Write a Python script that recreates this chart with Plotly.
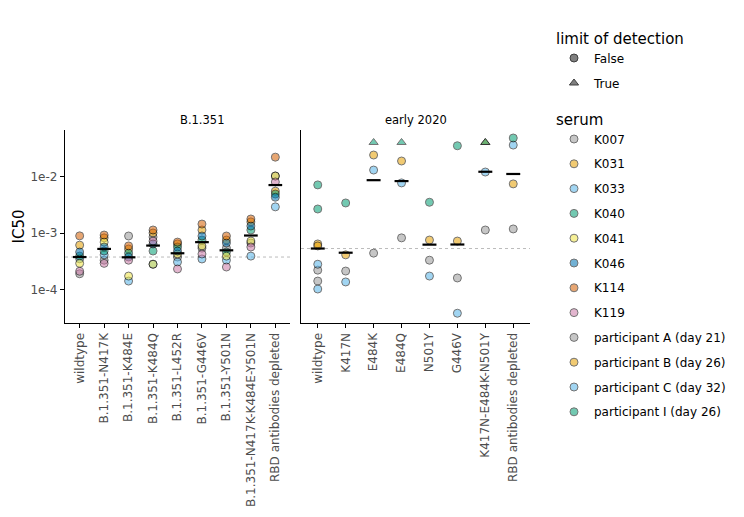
import numpy as np
import plotly.graph_objects as go

# ---- B.1.351 panel (8 sera, one value per virus) ----
B1351_VIRUSES = ["wildtype", "B.1.351-N417K", "B.1.351-K484E", "B.1.351-K484Q",
                 "B.1.351-L452R", "B.1.351-G446V", "B.1.351-Y501N",
                 "B.1.351-N417K-K484E-Y501N", "RBD antibodies depleted"]
K007 = [1.9e-4, 3.3e-4, 8.85e-4, 8.5e-4, 3.76e-4, 5.4e-4, 5.4e-4, 6.65e-4, 1.02e-2]
K031 = [6.1e-4, 8.2e-4, 5.2e-4, 1.0e-3, 6.4e-4, 1.13e-3, 7.5e-4, 1.57e-3, 5.5e-3]
K033 = [3.5e-4, 4.1e-4, 1.41e-4, 2.8e-4, 3.07e-4, 3.47e-4, 3.3e-4, 3.9e-4, 2.9e-3]
K040 = [3.9e-4, 4.8e-4, 4.4e-4, 4.8e-4, 5.65e-4, 7.5e-4, 4.6e-4, 1.13e-3, 4.9e-3]
K041 = [2.9e-4, 6.9e-4, 1.73e-4, 2.8e-4, 4.25e-4, 5.9e-4, 3.9e-4, 7.2e-4, 1.02e-2]
K046 = [4.6e-4, 5.65e-4, 3.76e-4, 6.4e-4, 4.8e-4, 8.85e-4, 6.65e-4, 1.33e-3, 4.3e-3]
K114 = [8.9e-4, 9.2e-4, 5.9e-4, 1.13e-3, 6.9e-4, 1.44e-3, 8.85e-4, 1.77e-3, 2.2e-2]
K119 = [2.1e-4, 2.9e-4, 3.3e-4, 7.2e-4, 2.31e-4, 4.25e-4, 2.5e-4, 5.65e-4, 8.0e-3]

# ---- early 2020 panel (4 participants, wildtype measured twice) ----
EARLY_VIRUSES = ["wildtype", "K417N", "E484K", "E484Q", "N501Y", "G446V",
                 "K417N-E484K-N501Y", "RBD antibodies depleted"]
EARLY_X = ["wildtype", "wildtype", "K417N", "E484K", "E484Q", "N501Y", "G446V",
           "K417N-E484K-N501Y", "RBD antibodies depleted"]
PART_A = [2.2e-4, 1.41e-4, 2.12e-4, 4.4e-4, 8.2e-4, 3.3e-4, 1.6e-4, 1.13e-3, 1.18e-3]
PART_B = [6.4e-4, 5.9e-4, 4.1e-4, 2.4e-2, 1.88e-2, 7.5e-4, 7.2e-4, 0.04, 7.4e-3]
PART_C = [2.8e-4, 1.02e-4, 1.36e-4, 1.3e-2, 7.7e-3, 1.73e-4, 3.8e-5, 1.2e-2, 3.6e-2]
PART_I = [7.1e-3, 2.66e-3, 3.4e-3, 0.04, 0.04, 3.5e-3, 3.5e-2, 0.04, 4.8e-2]
PART_A_LOD = [False] * 9
PART_B_LOD = [False, False, False, False, False, False, False, True, False]
PART_C_LOD = [False] * 9
PART_I_LOD = [False, False, False, True, True, False, False, True, False]

COLORS = {"K007": "#999999", "K031": "#E69F00", "K033": "#56B4E9", "K040": "#009E73",
          "K041": "#F0E442", "K046": "#0072B2", "K114": "#D55E00", "K119": "#CC79A7",
          "participant A (day 21)": "#999999", "participant B (day 26)": "#E69F00",
          "participant C (day 32)": "#56B4E9", "participant I (day 26)": "#009E73"}

b1351 = {"K007": K007, "K031": K031, "K033": K033, "K040": K040,
         "K041": K041, "K046": K046, "K114": K114, "K119": K119}
early = {"participant A (day 21)": (PART_A, PART_A_LOD),
         "participant B (day 26)": (PART_B, PART_B_LOD),
         "participant C (day 32)": (PART_C, PART_C_LOD),
         "participant I (day 26)": (PART_I, PART_I_LOD)}

FONT = "DejaVu Sans"
W, H = 744, 517
# page body adds an 8px margin, so lay out in page pixels minus 8
def px(x):
    return (x - 8) / W
def py(y):
    return 1 - (y - 8) / H

fig = go.Figure()


def marker(color, symbols):
    return dict(size=8, color=color, opacity=0.55, symbol=symbols,
                line=dict(color="black", width=1))


def gmean_bars(xs, ys, cats, half, xa, ya):
    xs = np.array(xs)
    ys = np.array(ys)
    bx, by = [], []
    for i, c in enumerate(cats):
        m = 10 ** np.mean(np.log10(ys[xs == c]))
        bx += [i - half, i + half, None]
        by += [m, m, None]
    fig.add_trace(go.Scatter(x=bx, y=by, mode="lines", xaxis=xa, yaxis=ya,
                             line=dict(color="black", width=2.2), showlegend=False,
                             hoverinfo="skip"))


# B.1.351 panel
all_x, all_y = [], []
for name, vals in b1351.items():
    all_x += B1351_VIRUSES
    all_y += vals
wt = 10 ** np.mean(np.log10([v for x, v in zip(all_x, all_y) if x == "wildtype"]))
fig.add_trace(go.Scatter(x=[-0.6, len(B1351_VIRUSES) - 0.4], y=[wt, wt], mode="lines",
                         line=dict(color="#bbbbbb", width=1, dash="dot"),
                         xaxis="x", yaxis="y", showlegend=False, hoverinfo="skip"))
for name, vals in b1351.items():
    fig.add_trace(go.Scatter(x=list(range(len(B1351_VIRUSES))), y=vals,
                             mode="markers", marker=marker(COLORS[name], "circle"),
                             xaxis="x", yaxis="y", name=name, showlegend=False))
gmean_bars(all_x, all_y, B1351_VIRUSES, 0.28, "x", "y")

# early 2020 panel
all_x, all_y = [], []
for name, (vals, lod) in early.items():
    all_x += EARLY_X
    all_y += vals
wt = 10 ** np.mean(np.log10([v for x, v in zip(all_x, all_y) if x == "wildtype"]))
fig.add_trace(go.Scatter(x=[-0.6, len(EARLY_VIRUSES) - 0.4], y=[wt, wt], mode="lines",
                         line=dict(color="#bbbbbb", width=1, dash="dot"),
                         xaxis="x2", yaxis="y2", showlegend=False, hoverinfo="skip"))
for name, (vals, lod) in early.items():
    fig.add_trace(go.Scatter(x=[EARLY_VIRUSES.index(v) for v in EARLY_X], y=vals,
                             mode="markers",
                             marker=marker(COLORS[name],
                                           ["triangle-up" if f else "circle" for f in lod]),
                             xaxis="x2", yaxis="y2", name=name, showlegend=False))
gmean_bars(all_x, all_y, EARLY_VIRUSES, 0.25, "x2", "y2")

# legends
for lab, sym in [("False", "circle"), ("True", "triangle-up")]:
    fig.add_trace(go.Scatter(x=[None], y=[None], mode="markers", name=lab,
                             legend="legend", legendgroup=lab,
                             marker=dict(size=8, color="#555555", opacity=0.75, symbol=sym,
                                         line=dict(color="black", width=1))))
for name in COLORS:
    fig.add_trace(go.Scatter(x=[None], y=[None], mode="markers", name=name,
                             legend="legend2", legendgroup=name,
                             marker=marker(COLORS[name], "circle")))

ax = dict(showgrid=False, zeroline=False, showline=True, linecolor="black", linewidth=1.3,
          ticks="outside", ticklen=4, tickcolor="black",
          tickfont=dict(family=FONT, size=12, color="#4d4d4d"))
yrange = [-4.593, -1.177]
xl = [px(65), px(290)]
xr = [px(301), px(530)]
yd = [py(323), py(130)]
fig.update_layout(
    width=W, height=H, margin=dict(l=0, r=0, t=0, b=0),
    plot_bgcolor="white", paper_bgcolor="white",
    font=dict(family=FONT, size=12, color="black"),
    xaxis=dict(ax, domain=xl, range=[-0.6, len(B1351_VIRUSES) - 0.4],
               tickvals=list(range(len(B1351_VIRUSES))), ticktext=B1351_VIRUSES,
               tickangle=-90, anchor="y"),
    xaxis2=dict(ax, domain=xr, range=[-0.6, len(EARLY_VIRUSES) - 0.4],
                tickvals=list(range(len(EARLY_VIRUSES))), ticktext=EARLY_VIRUSES,
                tickangle=-90, anchor="y2"),
    yaxis=dict(ax, type="log", range=yrange, domain=yd,
               tickvals=[1e-4, 1e-3, 1e-2], ticktext=["1e-4", "1e-3", "1e-2"],
               title=dict(text="IC50", font=dict(family=FONT, size=15), standoff=2),
               anchor="x"),
    yaxis2=dict(ax, type="log", range=yrange, domain=yd, matches="y",
                showticklabels=False, ticks="", anchor="x2"),
    legend=dict(x=px(554), y=py(24), xanchor="left", yanchor="top",
                title=dict(text="limit of detection", font=dict(size=15)),
                font=dict(size=12), tracegroupgap=6),
    legend2=dict(x=px(554), y=py(105), xanchor="left", yanchor="top",
                 title=dict(text="serum", font=dict(size=15)),
                 font=dict(size=12), tracegroupgap=5.8),
    annotations=[
        dict(text="B.1.351", x=(xl[0] + xl[1]) / 2, y=py(120), xref="paper",
             yref="paper", yanchor="middle", showarrow=False, font=dict(size=11.5)),
        dict(text="early 2020", x=(xr[0] + xr[1]) / 2, y=py(120), xref="paper",
             yref="paper", yanchor="middle", showarrow=False, font=dict(size=11.5)),
    ],
)
fig.write_html("out.html")
